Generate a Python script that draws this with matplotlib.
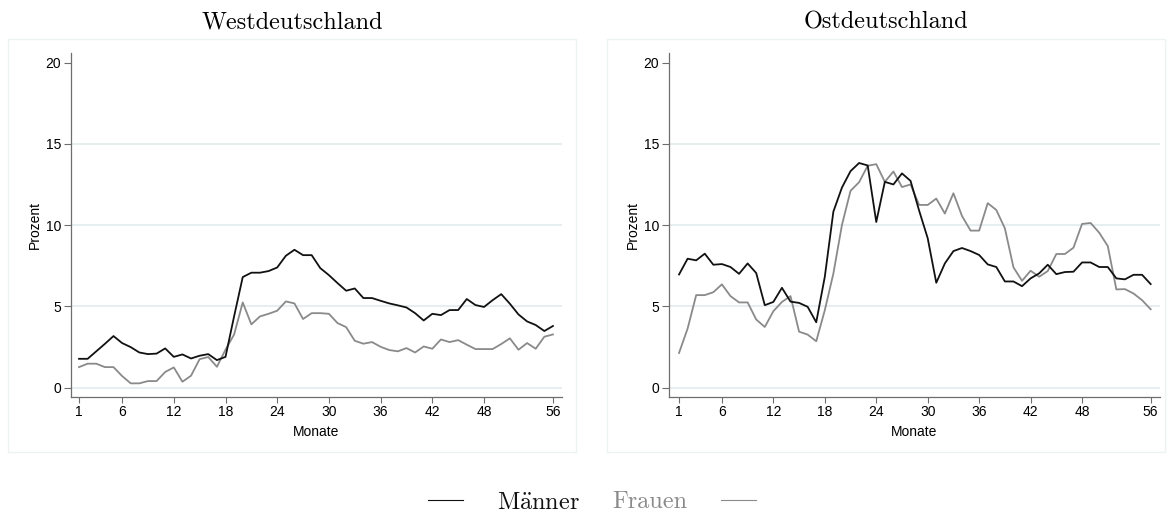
"""
Arbeitslosigkeit nach Monaten, West/Ost, Männer/Frauen
"""
import matplotlib
matplotlib.use('Agg')
import matplotlib.pyplot as plt
from matplotlib.lines import Line2D
from matplotlib.patches import Rectangle

plt.rcParams['mathtext.fontset'] = 'cm'

# Data
months = list(range(1, 57))

west_m = [1.78, 1.78, 2.24, 2.70, 3.18, 2.75, 2.50, 2.17, 2.07, 2.10,
          2.42, 1.90, 2.05, 1.80, 1.97, 2.07, 1.70, 1.90, 4.40, 6.81,
          7.08, 7.08, 7.18, 7.40, 8.12, 8.49, 8.16, 8.16, 7.36, 6.93,
          6.44, 5.97, 6.11, 5.52, 5.52, 5.35, 5.19, 5.07, 4.94, 4.59,
          4.14, 4.55, 4.47, 4.78, 4.78, 5.46, 5.09, 4.97, 5.39, 5.76,
          5.17, 4.51, 4.08, 3.86, 3.49, 3.80]
west_f = [1.27, 1.48, 1.48, 1.27, 1.27, 0.72, 0.27, 0.27, 0.41, 0.41,
          0.97, 1.25, 0.37, 0.74, 1.76, 1.89, 1.29, 2.34, 3.28, 5.25,
          3.90, 4.39, 4.55, 4.74, 5.31, 5.19, 4.23, 4.59, 4.59, 4.55,
          3.98, 3.73, 2.89, 2.71, 2.81, 2.52, 2.32, 2.24, 2.44, 2.17,
          2.54, 2.40, 2.97, 2.81, 2.93, 2.65, 2.38, 2.38, 2.38, 2.69,
          3.04, 2.34, 2.75, 2.40, 3.14, 3.28]
ost_m = [6.97, 7.94, 7.84, 8.25, 7.57, 7.61, 7.43, 7.01, 7.65, 7.06,
         5.08, 5.28, 6.15, 5.30, 5.22, 4.98, 4.03, 6.83, 10.84, 12.32,
         13.33, 13.83, 13.68, 10.20, 12.67, 12.51, 13.19, 12.73, 10.90, 9.20,
         6.46, 7.65, 8.41, 8.60, 8.41, 8.17, 7.59, 7.43, 6.54, 6.54,
         6.25, 6.73, 7.04, 7.57, 6.99, 7.12, 7.14, 7.71, 7.71, 7.43,
         7.43, 6.73, 6.67, 6.95, 6.95, 6.38]
ost_f = [2.14, 3.64, 5.70, 5.70, 5.88, 6.36, 5.64, 5.25, 5.25, 4.20,
         3.74, 4.71, 5.28, 5.64, 3.45, 3.27, 2.86, 4.77, 7.03, 10.02,
         12.12, 12.65, 13.66, 13.76, 12.67, 13.31, 12.35, 12.51, 11.25, 11.25,
         11.64, 10.72, 11.97, 10.57, 9.67, 9.67, 11.36, 10.94, 9.81, 7.41,
         6.58, 7.20, 6.83, 7.18, 8.23, 8.23, 8.62, 10.08, 10.14, 9.54,
         8.72, 6.05, 6.07, 5.80, 5.39, 4.83]

x_ticks = [1, 6, 12, 18, 24, 30, 36, 42, 48, 56]
y_ticks = [0, 5, 10, 15, 20]
grid_levels = [0, 5, 10, 15]
titles = ['Westdeutschland', 'Ostdeutschland']

c_m, c_f = '#111111', '#8a8a8a'
c_grid = '#e6eeef'
c_axis = '#6e6e6e'
W, H = 1173, 515

fig = plt.figure(figsize=(W / 100, H / 100), dpi=100)
fig.patch.set_facecolor('white')

# panel frames (light outline around each graph)
for (x0, x1) in [(8, 576), (607, 1165)]:
    fig.patches.append(Rectangle((x0 / W, 1 - 452 / H), (x1 - x0) / W, (452 - 39) / H,
                                 transform=fig.transFigure, fill=False,
                                 edgecolor='#edf2f3', linewidth=1.0))

ax_l = fig.add_axes([71 / W, 1 - 397 / H, (562 - 71) / W, (397 - 53) / H])
ax_r = fig.add_axes([669 / W, 1 - 397 / H, (1160 - 669) / W, (397 - 53) / H])

def setup_ax(ax, xlim):
    ax.set_xlim(*xlim)
    ax.set_ylim(-0.57, 20.6)
    for s in ['top', 'right']:
        ax.spines[s].set_visible(False)
    for s in ['left', 'bottom']:
        ax.spines[s].set_color(c_axis)
        ax.spines[s].set_linewidth(0.9)
    ax.set_xticks(x_ticks)
    ax.set_yticks(y_ticks)
    ax.tick_params(axis='both', colors=c_axis, labelcolor='black', labelsize=10,
                   width=0.8, direction='out')
    ax.tick_params(axis='y', length=5, pad=2)
    ax.tick_params(axis='x', length=4, pad=1.5)
    for lbl in ax.get_xticklabels() + ax.get_yticklabels():
        lbl.set_fontfamily('Liberation Sans')
    for g in grid_levels:
        ax.axhline(g, color=c_grid, linewidth=1.4, zorder=0)
    ax.set_ylabel('Prozent', fontsize=10, family='Liberation Sans', labelpad=3)
    ax.set_xlabel('Monate', fontsize=10, family='Liberation Sans', labelpad=4.5)

setup_ax(ax_l, (0.07, 57.05))
setup_ax(ax_r, (-0.17, 57.09))

ax_l.plot(months, west_f, color=c_f, linewidth=1.3, zorder=3)
ax_l.plot(months, west_m, color=c_m, linewidth=1.3, zorder=4)
ax_r.plot(months, ost_f, color=c_f, linewidth=1.3, zorder=3)
ax_r.plot(months, ost_m, color=c_m, linewidth=1.3, zorder=4)

# titles centred over the panel frames
fig.text(292 / W, 1 - 22 / H, titles[0], ha='center', va='center',
         fontsize=17.5, family='cmr10')
fig.text(886 / W, 1 - 22 / H, titles[1], ha='center', va='center',
         fontsize=17.5, family='cmr10')

# legend: symbol before "Männer", symbol after "Frauen"
h_m = Line2D([], [], color=c_m, linewidth=0.8)
h_f = Line2D([], [], color=c_f, linewidth=0.8)
leg_kw = dict(frameon=False, fontsize=17.5, handlelength=1.45, handletextpad=1.4,
              borderpad=0, borderaxespad=0)
fig.legend([h_m], [r'$\mathrm{M\ddot{a}nner}$'], loc='center right',
           bbox_to_anchor=(580 / W, 1 - 502 / H), labelcolor=c_m, **leg_kw)
fig.legend([h_f], ['Frauen'], loc='center left',
           bbox_to_anchor=(612 / W, 1 - 502 / H), markerfirst=False,
           labelcolor=c_f, prop={'family': 'cmr10', 'size': 17.5},
           **{k: v for k, v in leg_kw.items() if k != 'fontsize'})

plt.savefig('out.png', dpi=100, facecolor='white')
